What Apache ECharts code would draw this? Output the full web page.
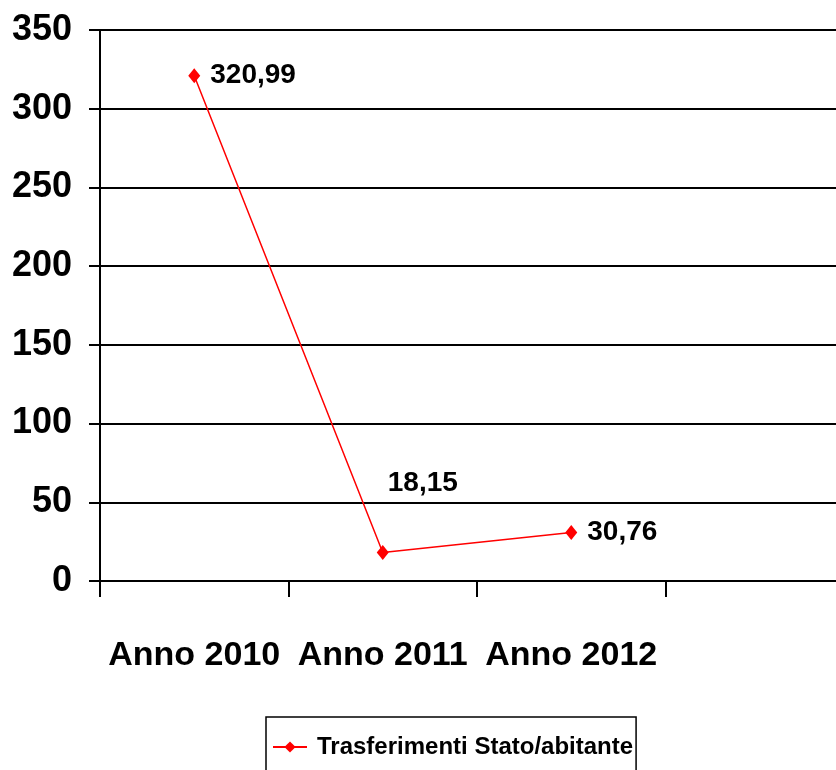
<!DOCTYPE html>
<html>
<head>
<meta charset="utf-8">
<script src="https://cdn.jsdelivr.net/npm/echarts@6/dist/echarts.min.js"></script>
<style>
  html, body { margin: 0; padding: 0; background: #fff; overflow: hidden; }
  #main { width: 854px; height: 770px; }
</style>
</head>
<body>
<div id="main"></div>
<script>
var categories = ['Anno 2010', 'Anno 2011', 'Anno 2012', ''];
var values = [320.99, 18.15, 30.76, null];
var seriesName = 'Trasferimenti Stato/abitante';
var yTicks = { min: 0, max: 350, interval: 50 };

var font = "'Liberation Sans', Arial, sans-serif";

function fmt(v) {
    return v.toFixed(2).replace('.', ',');
}

var chart = echarts.init(document.getElementById('main'));
var option = {
    backgroundColor: '#fff',
    animation: false,
    grid: { left: 100, top: 30, right: 0, bottom: 189 },
    xAxis: {
        type: 'category',
        data: categories,
        boundaryGap: true,
        axisLine: { lineStyle: { color: '#000', width: 2 } },
        axisTick: { show: true, interval: 0, length: 16, lineStyle: { color: '#000', width: 2 } },
        axisLabel: {
            interval: 0,
            color: '#000', fontFamily: font, fontWeight: 'bold', fontSize: 34,
            margin: 58
        }
    },
    yAxis: {
        type: 'value',
        min: yTicks.min, max: yTicks.max, interval: yTicks.interval,
        axisLine: { show: true, lineStyle: { color: '#000', width: 2 } },
        axisTick: { show: true, length: 11, lineStyle: { color: '#000', width: 2 } },
        axisLabel: {
            color: '#000', fontFamily: font, fontWeight: 'bold', fontSize: 36,
            margin: 28
        },
        splitLine: { lineStyle: { color: '#000', width: 2 } }
    },
    legend: {
        left: 266, top: 717,
        padding: [18, 3, 40, 6],
        borderColor: '#000', borderWidth: 1.5,
        itemWidth: 34, itemHeight: 14,
        textStyle: { color: '#000', fontFamily: font, fontWeight: 'bold', fontSize: 24, padding: [0, 0, 0, 5] },
        data: [seriesName]
    },
    series: [{
        name: seriesName,
        type: 'line',
        data: values,
        color: '#ff0000',
        symbol: 'diamond',
        symbolSize: [12, 15],
        lineStyle: { width: 1.5, color: '#ff0000' },
        itemStyle: { color: '#ff0000' },
        label: {
            show: true,
            position: 'right',
            distance: 10,
            color: '#000', fontFamily: font, fontWeight: 'bold', fontSize: 28,
            formatter: function (p) { return fmt(p.value); }
        },
        labelLayout: function (params) {
            if (params.dataIndex === 1) {
                var cx = params.rect.x + params.rect.width / 2;
                var cy = params.rect.y + params.rect.height / 2;
                return { x: cx + 5, y: cy - 83 };
            }
            return {};
        }
    }]
};
chart.setOption(option);
</script>
</body>
</html>
